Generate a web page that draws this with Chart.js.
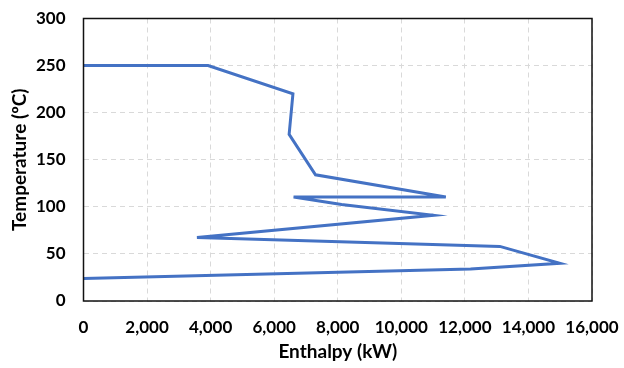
<!DOCTYPE html>
<html>
<head>
<meta charset="utf-8">
<script src="https://cdn.jsdelivr.net/npm/chart.js@4"></script>
<style>
  html, body { margin: 0; padding: 0; background: #fff; }
  #wrap { width: 624px; height: 368px; }
</style>
</head>
<body>
<div id="wrap"><canvas id="chart"></canvas></div>
<script>
// composite curve: enthalpy (kW) vs temperature (ºC)
const enthalpy = [0, 3920, 6590, 6470, 7300, 11400, 6610, 8120, 11010, 3570, 13100, 14990, 12180, 0];
const temperature = [250, 250, 220, 177, 134, 110.5, 110.5, 102.5, 91, 67.5, 58, 40, 34, 24];
const xTicks = [0, 2000, 4000, 6000, 8000, 10000, 12000, 14000, 16000];
const yTicks = [0, 50, 100, 150, 200, 250, 300];

const points = enthalpy.map((x, i) => ({ x: x, y: temperature[i] }));

// black frame round the plot area
const frame = {
  id: "frame",
  afterDraw(chart) {
    const a = chart.chartArea;
    const c = chart.ctx;
    c.save();
    c.strokeStyle = "#111";
    c.lineWidth = 1.5;
    c.strokeRect(a.left, a.top, a.right - a.left, a.bottom - a.top);
    c.restore();
  }
};

const family = "Lato, 'Open Sans', sans-serif";
const tickFont = { family: family, weight: "bold", size: 17 };
const titleFont = { family: family, weight: "bold", size: 19 };

new Chart(document.getElementById("chart"), {
  type: "scatter",
  data: {
    datasets: [{
      data: points,
      showLine: true,
      borderColor: "#4472C4",
      borderWidth: 3,
      pointRadius: 0,
      tension: 0
    }]
  },
  options: {
    responsive: true,
    maintainAspectRatio: false,
    animation: false,
    layout: { padding: { top: 18.5, right: 32, left: 0, bottom: 0 } },
    plugins: { legend: { display: false }, tooltip: { enabled: false } },
    scales: {
      x: {
        min: xTicks[0],
        max: xTicks[xTicks.length - 1],
        afterBuildTicks: s => { s.ticks = xTicks.map(v => ({ value: v })); },
        afterFit: s => { s.height = 67; s.paddingLeft = 0; s.paddingRight = 0; },
        ticks: {
          color: "#000",
          font: tickFont,
          padding: 16,
          maxRotation: 0,
          callback: v => v.toLocaleString("en-US")
        },
        grid: { color: "#d9d9d9", drawTicks: false },
        border: { display: false, dash: [5, 4] },
        title: { display: true, text: "Enthalpy (kW)", color: "#000", font: titleFont, padding: { top: 0, bottom: 5 } }
      },
      y: {
        min: yTicks[0],
        max: yTicks[yTicks.length - 1],
        afterBuildTicks: s => { s.ticks = yTicks.map(v => ({ value: v })); },
        afterFit: s => { s.width = 83.5; s.paddingTop = 0; s.paddingBottom = 0; },
        ticks: { color: "#000", font: tickFont, padding: 18 },
        grid: { color: "#d9d9d9", drawTicks: false },
        border: { display: false, dash: [5, 4] },
        title: { display: true, text: "Temperature (ºC)", color: "#000", font: titleFont, padding: { top: 8, bottom: 0 } }
      }
    }
  },
  plugins: [frame]
});
</script>
</body>
</html>
